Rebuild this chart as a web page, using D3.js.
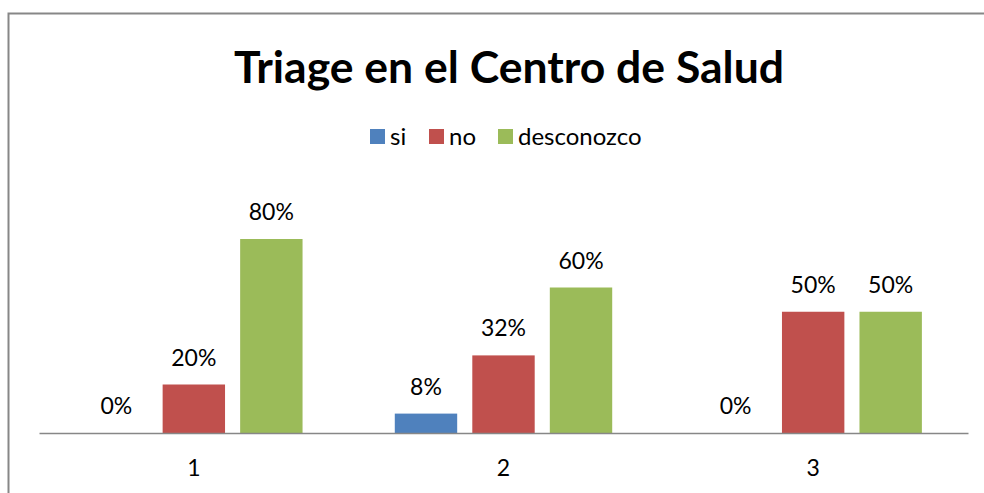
<!DOCTYPE html>
<html>
<head>
<meta charset="utf-8">
<script src="https://cdn.jsdelivr.net/npm/d3@7"></script>
<style>
  html, body { margin: 0; padding: 0; background: #fff; overflow: hidden; }
  svg { display: block; font-family: Lato, "Open Sans", sans-serif; }
</style>
</head>
<body>
<div id="chart"></div>
<script>
// data
const categories = ["1", "2", "3"];
const seriesNames = ["si", "no", "desconozco"];
const siValues = [0, 0.08, 0];
const noValues = [0.20, 0.32, 0.50];
const desconozcoValues = [0.80, 0.60, 0.50];
const colors = ["#4F81BD", "#C0504D", "#9BBB59"];

const W = 984, H = 493;
const plot = { left: 39, right: 968, top: 190.5, bottom: 433 };

const svg = d3.select("#chart").append("svg")
  .attr("width", W).attr("height", H);

// outer chart border (runs off the right/bottom edge)
svg.append("path")
  .attr("d", `M8.5,${H + 10}V13.5H${W + 10}`)
  .attr("fill", "none")
  .attr("stroke", "#878787")
  .attr("stroke-width", 2);

// title
svg.append("text")
  .attr("x", 509).attr("y", 83)
  .attr("text-anchor", "middle")
  .attr("font-size", "44.5px")
  .attr("font-weight", "bold")
  .attr("fill", "#000")
  .text("Triage en el Centro de Salud");

const table = categories.map((c, i) => ({
  cat: c,
  vals: [siValues[i], noValues[i], desconozcoValues[i]]
}));

// scales
const x0 = d3.scaleBand()
  .domain(categories)
  .range([plot.left, plot.right])
  .padding(0);

const x1 = d3.scaleBand()
  .domain(seriesNames)
  .range([0, x0.bandwidth()])
  .paddingInner(0.195)
  .paddingOuter(0.595);

const y = d3.scaleLinear()
  .domain([0, 1])
  .range([plot.bottom, plot.top]);

// bars
const groups = svg.selectAll("g.group")
  .data(table)
  .enter().append("g")
  .attr("class", "group")
  .attr("transform", d => `translate(${x0(d.cat)},0)`);

groups.selectAll("rect")
  .data(d => d.vals.map((v, j) => ({ name: seriesNames[j], v, j })))
  .enter().append("rect")
  .attr("x", d => x1(d.name))
  .attr("y", d => y(d.v))
  .attr("width", x1.bandwidth())
  .attr("height", d => y(0) - y(d.v))
  .attr("fill", d => colors[d.j]);

// value labels
groups.selectAll("text.val")
  .data(d => d.vals.map((v, j) => ({ name: seriesNames[j], v })))
  .enter().append("text")
  .attr("class", "val")
  .attr("x", d => x1(d.name) + x1.bandwidth() / 2)
  .attr("y", d => y(d.v) - 19)
  .attr("text-anchor", "middle")
  .attr("font-size", "23px")
  .attr("fill", "#000")
  .text(d => Math.round(d.v * 100) + "%");

// x axis
const xAxis = svg.append("g")
  .attr("transform", `translate(0,${plot.bottom})`)
  .call(d3.axisBottom(x0).tickSize(0).tickPadding(27));
xAxis.select(".domain")
  .attr("stroke", "#878787")
  .attr("stroke-width", 1.5);
xAxis.selectAll("text")
  .attr("font-family", "Lato, 'Open Sans', sans-serif")
  .attr("font-size", "23px")
  .attr("fill", "#000");

// legend
const legendItems = [
  { name: seriesNames[0], x: 370 },
  { name: seriesNames[1], x: 429 },
  { name: seriesNames[2], x: 498 }
];
const legend = svg.append("g");
legendItems.forEach((d, i) => {
  legend.append("rect")
    .attr("x", d.x).attr("y", 129)
    .attr("width", 15).attr("height", 15)
    .attr("fill", colors[i]);
  legend.append("text")
    .attr("x", d.x + 20).attr("y", 145)
    .attr("font-size", "24px")
    .attr("fill", "#000")
    .text(d.name);
});
</script>
</body>
</html>
